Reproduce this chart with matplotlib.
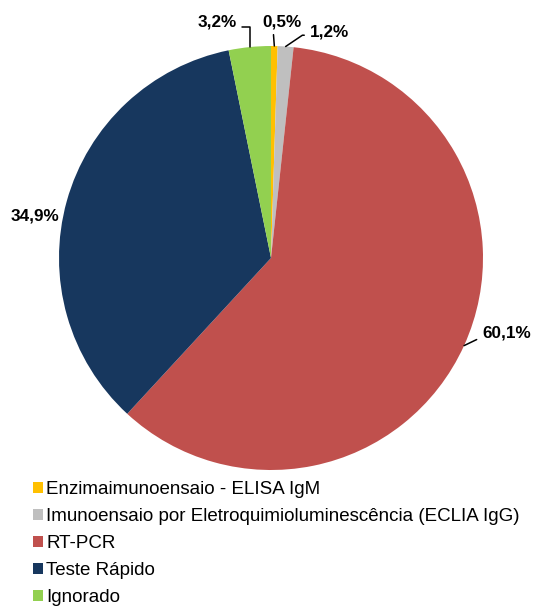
import matplotlib.pyplot as plt
import numpy as np
from matplotlib.patches import Patch

plt.rcParams['font.family'] = ['Liberation Sans', 'DejaVu Sans']

categorias = ['Enzimaimunoensaio - ELISA IgM',
              'Imunoensaio por Eletroquimioluminescência (ECLIA IgG)',
              'RT-PCR', 'Teste Rápido', 'Ignorado']
valores = [0.5, 1.2, 60.1, 34.9, 3.2]
rotulos = ['0,5%', '1,2%', '60,1%', '34,9%', '3,2%']
cores = ['#FFC000', '#BFBFBF', '#C0504D', '#17375E', '#92D050']

fig = plt.figure(figsize=(5.4, 6.07), dpi=100)
ax = fig.add_axes([59/540, 137/607, 424/540, 424/607])
wedges, _ = ax.pie(valores, colors=cores, startangle=90, counterclock=False,
                   radius=1, wedgeprops=dict(linewidth=0))
ax.set_xlim(-1, 1)
ax.set_ylim(-1, 1)
ax.set_aspect('equal')
ax.axis('off')

# rotulos: posicao do texto, alinhamento e estilo da linha guia
cfg = [
    dict(xytext=(0.05, 1.115), ha='center', relpos=(0.28, 0.1), cs='arc3'),
    dict(xytext=(0.183, 1.065), ha='left', relpos=(0, 0.3), cs='angle,angleA=0,angleB=34,rad=0'),
    dict(xytext=(0.995, -0.355), ha='left', relpos=(0, 0.25), cs='arc3'),
    None,
    dict(xytext=(-0.255, 1.115), ha='center', relpos=(1, 0.15), cs='angle,angleA=0,angleB=90,rad=0'),
]
fs = 12.3
for w, txt, c in zip(wedges, rotulos, cfg):
    ang = np.deg2rad((w.theta1 + w.theta2) / 2)
    px, py = np.cos(ang), np.sin(ang)
    if c is None:
        ax.text(-1.113, 0.20, txt, ha='center', va='center', fontsize=fs, fontweight='bold')
        continue
    ax.annotate(txt, xy=(px, py), xytext=c['xytext'], ha=c['ha'], va='center',
                fontsize=fs, fontweight='bold', annotation_clip=False,
                arrowprops=dict(arrowstyle='-', color='black', lw=1.1,
                                shrinkA=2, shrinkB=0, relpos=c['relpos'],
                                connectionstyle=c['cs']))

handles = [Patch(facecolor=cc, edgecolor='none') for cc in cores]
fig.legend(handles, categorias, loc='upper left', bbox_to_anchor=(0.062, 0.2076),
           frameon=False, fontsize=13.5, handlelength=0.53, handleheight=0.53,
           handletextpad=0.15, labelspacing=0.54, borderaxespad=0, borderpad=0)

fig.savefig('out.png', dpi=100)
